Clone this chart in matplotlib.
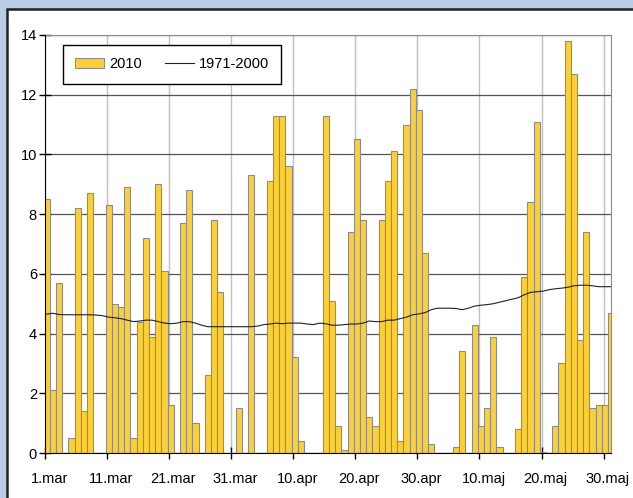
import matplotlib.pyplot as plt
from matplotlib.patches import Rectangle

# daily precipitation, 1 March - 31 May
rain_2010 = [8.5, 2.1, 5.7, 0, 0.5, 8.2, 1.4, 8.7, 0, 0,
             8.3, 5.0, 4.9, 8.9, 0.5, 4.4, 7.2, 3.9, 9.0, 6.1,
             1.6, 0, 7.7, 8.8, 1.0, 0, 2.6, 7.8, 5.4, 0,
             0, 1.5, 0, 9.3, 0, 0, 9.1, 11.3, 11.3, 9.6,
             3.2, 0.4, 0, 0, 0, 11.3, 5.1, 0.9, 0.1, 7.4,
             10.5, 7.8, 1.2, 0.9, 7.8, 9.1, 10.1, 0.4, 11.0, 12.2,
             11.5, 6.7, 0.3, 0, 0, 0, 0.2, 3.4, 0, 4.3,
             0.9, 1.5, 3.9, 0.2, 0, 0, 0.8, 5.9, 8.4, 11.1,
             0.05, 0, 0.9, 3.0, 13.8, 12.7, 3.8, 7.4, 1.5, 1.6,
             1.6, 4.7]

normal_1971_2000 = [4.65, 4.68, 4.64, 4.63, 4.63, 4.63, 4.63, 4.63, 4.62, 4.6,
                    4.55, 4.53, 4.5, 4.45, 4.4, 4.42, 4.45, 4.45, 4.4, 4.35,
                    4.33, 4.35, 4.4, 4.4, 4.35, 4.28, 4.23, 4.23, 4.23, 4.23,
                    4.23, 4.23, 4.23, 4.23, 4.25, 4.3, 4.32, 4.35, 4.33, 4.35,
                    4.35, 4.35, 4.32, 4.3, 4.35, 4.33, 4.28, 4.28, 4.3, 4.32,
                    4.32, 4.35, 4.42, 4.4, 4.4, 4.45, 4.45, 4.5, 4.55, 4.63,
                    4.66, 4.7, 4.8, 4.85, 4.85, 4.85, 4.84, 4.8, 4.85, 4.92,
                    4.95, 4.97, 5.0, 5.05, 5.1, 5.15, 5.2, 5.3, 5.38, 5.4,
                    5.42, 5.47, 5.5, 5.52, 5.55, 5.6, 5.62, 5.62, 5.6, 5.57,
                    5.57, 5.57]

tick_days = [0, 10, 20, 30, 40, 50, 60, 70, 80, 90]
tick_labels = ['1.mar', '11.mar', '21.mar', '31.mar', '10.apr',
               '20.apr', '30.apr', '10.maj', '20.maj', '30.maj']

plt.rcParams['font.family'] = ['Liberation Sans', 'DejaVu Sans']
plt.rcParams['font.size'] = 10.5

fig = plt.figure(figsize=(6.33, 4.98), dpi=100, facecolor='#b9cde5')
# white chart area with dark border (cropped at right and bottom)
fig.add_artist(Rectangle((7.5 / 633, -0.05), 1.0, 1 - 8.7 / 498 + 0.05,
                         transform=fig.transFigure, facecolor='white',
                         edgecolor='#222222', linewidth=1.8, zorder=-5))

ax = fig.add_axes([45.3 / 633, 1 - 453 / 498, (611 - 45.3) / 633, (453 - 35) / 498])
ax.set_facecolor('white')

days = [i + 0.22 for i in range(len(rain_2010))]
bars = ax.bar(days, rain_2010, width=1.0, color='#fcd035', edgecolor='#8c8c8c',
              linewidth=0.8, label='2010', zorder=3)
line, = ax.plot(days, normal_1971_2000, color='#222222', linewidth=0.8,
                label='1971-2000', zorder=4)

ax.set_xlim(0, 91.2)
ax.set_ylim(0, 14)
ax.set_yticks(range(0, 15, 2))

ax.set_xticks(tick_days)
ax.set_xticklabels([])
ax.set_xticks([d + 0.65 for d in tick_days], minor=True)
ax.set_xticklabels(tick_labels, minor=True)
ax.tick_params(axis='x', which='minor', length=0, pad=13.5)
ax.tick_params(axis='x', which='major', direction='inout', length=8, width=1, color='black')
ax.tick_params(axis='y', direction='inout', length=8, width=1, color='black', pad=2)

ax.grid(axis='y', color='#555555', linewidth=0.9, zorder=1)
ax.grid(axis='x', which='major', color='#c0c0c0', linewidth=1.0, zorder=1)
ax.set_axisbelow(True)

ax.spines['left'].set_color('black')
ax.spines['bottom'].set_color('black')
ax.spines['left'].set_zorder(5)
ax.spines['bottom'].set_zorder(5)
ax.spines['top'].set_color('#8c8c8c')
ax.spines['right'].set_color('#8c8c8c')

leg = ax.legend(handles=[bars, line], loc='upper left', bbox_to_anchor=(0.031, 0.976),
                ncol=2, frameon=True, fancybox=False, borderaxespad=0, borderpad=0.85,
                handlelength=2.0, handletextpad=0.3, columnspacing=1.6)
leg.get_frame().set_edgecolor('black')
leg.get_frame().set_linewidth(1.0)
leg.get_frame().set_alpha(1)

plt.savefig('out.png', dpi=100, facecolor=fig.get_facecolor())
